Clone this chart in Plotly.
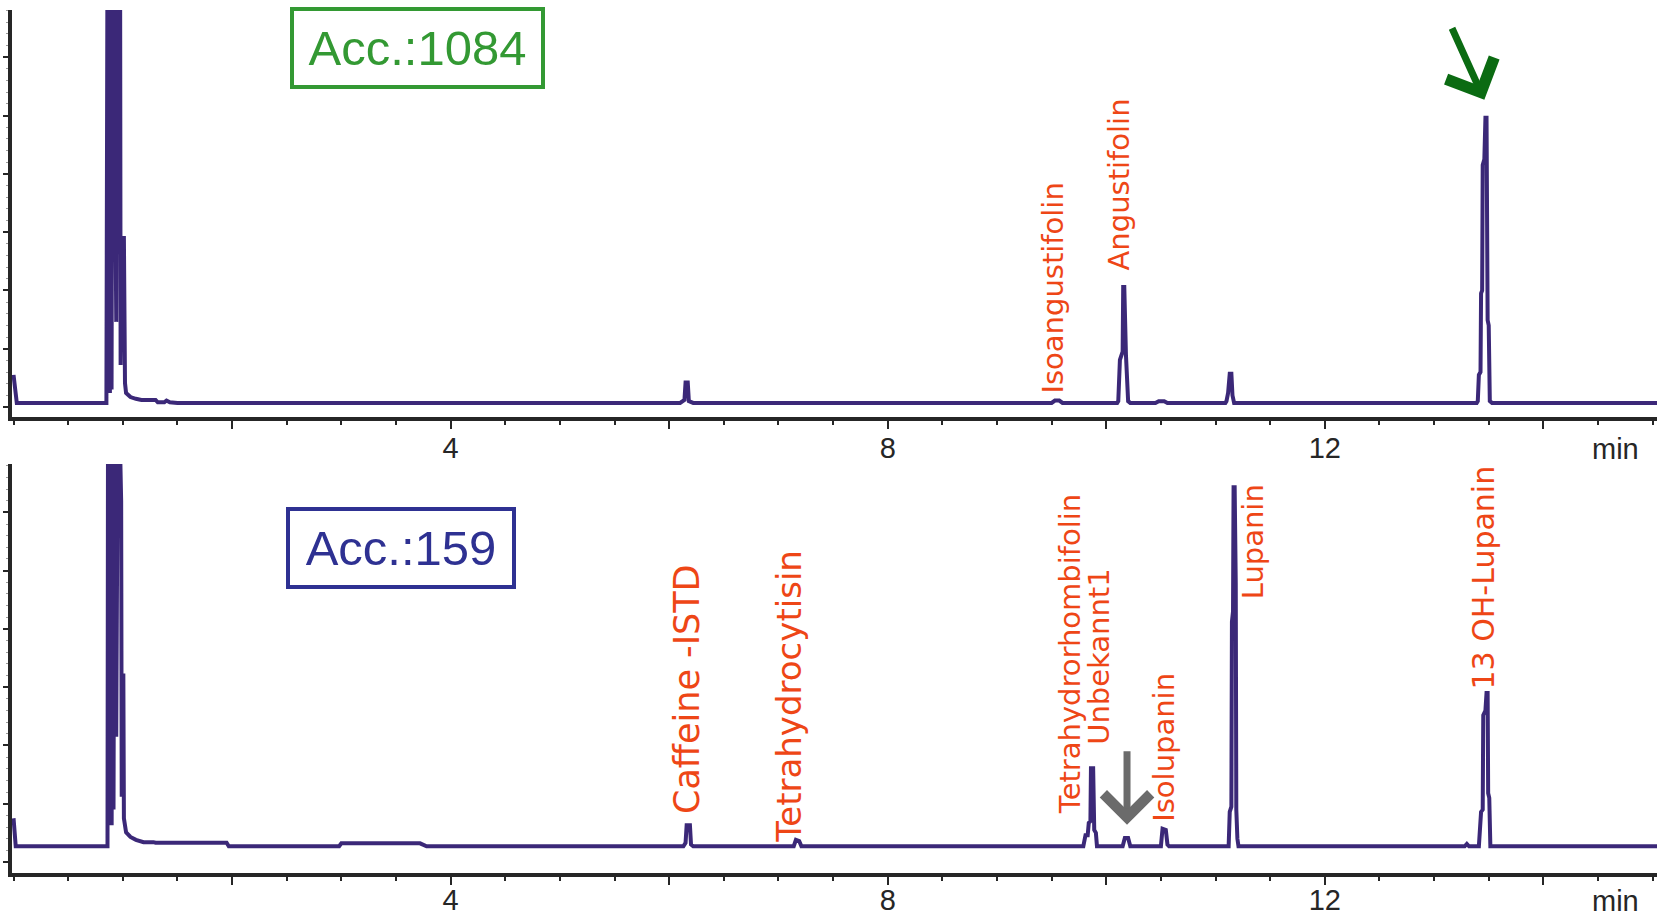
import plotly.graph_objects as go

# ---------------- data (retention time in min, detector signal in arbitrary units) -------------
top_time = [0.00, 0.02, 0.03, 0.85,
            0.86, 0.868, 0.875, 0.882, 0.89, 0.897, 0.905, 0.915, 0.94, 0.95, 0.975, 0.98,
            0.99, 1.01, 1.02, 1.03, 1.05, 1.07, 1.12, 1.17, 1.30, 1.32, 1.38, 1.40, 1.43, 1.50,
            6.10, 6.14, 6.15, 6.17, 6.18, 6.22,
            9.50, 9.53, 9.57, 9.60,
            10.10, 10.11, 10.125, 10.15, 10.155, 10.165, 10.18, 10.19, 10.20, 10.22,
            10.45, 10.48, 10.53, 10.56,
            11.09, 11.10, 11.115, 11.13, 11.145, 11.155, 11.17,
            13.39, 13.40, 13.41, 13.425, 13.43, 13.44, 13.445, 13.46, 13.47, 13.48,
            13.49, 13.50, 13.51, 13.53, 15.04]
top_signal = [0.55, 0.30, 0.07, 0.07,
              8.0, 0.30, 8.0, 0.24, 8.0, 0.30, 8.0, 8.0, 1.46, 8.0, 8.0, 0.72,
              2.90, 2.90, 0.41, 0.24, 0.20, 0.17, 0.14, 0.12, 0.12, 0.08, 0.08, 0.11, 0.08, 0.07,
              0.07, 0.12, 0.42, 0.42, 0.10, 0.07,
              0.07, 0.11, 0.11, 0.07,
              0.07, 0.10, 0.81, 0.95, 2.06, 2.06, 0.90, 0.46, 0.10, 0.07,
              0.07, 0.10, 0.10, 0.07,
              0.07, 0.10, 0.24, 0.57, 0.57, 0.20, 0.07,
              0.07, 0.10, 0.55, 0.60, 1.95, 2.00, 4.15, 4.25, 4.96, 4.96,
              1.49, 1.40, 0.10, 0.07, 0.07]

bottom_time = [0.00, 0.01, 0.02, 0.86,
               0.865, 0.872, 0.878, 0.885, 0.892, 0.898, 0.905, 0.915, 0.925, 0.94, 0.955,
               0.965, 0.975, 0.985, 0.99, 0.995, 1.005, 1.01, 1.03, 1.07, 1.12, 1.19, 1.28,
               1.30, 1.95, 1.97, 2.98, 3.00, 3.72, 3.75, 3.78,
               6.13, 6.15, 6.16, 6.19, 6.20, 6.22,
               7.14, 7.16, 7.19, 7.21,
               9.79, 9.81, 9.83, 9.84, 9.855, 9.86, 9.88, 9.89, 9.905, 9.915,
               10.15, 10.17, 10.20, 10.22,
               10.50, 10.515, 10.545, 10.56, 10.575,
               11.12, 11.13, 11.145, 11.15, 11.16, 11.165, 11.175, 11.185, 11.19, 11.20, 11.21,
               13.28, 13.30, 13.32,
               13.41, 13.43, 13.445, 13.45, 13.47, 13.48, 13.49, 13.495, 13.505, 13.515,
               15.04]
bottom_signal = [0.75, 0.55, 0.27, 0.27,
                 8.0, 0.63, 8.0, 0.70, 8.0, 0.63, 8.0, 0.90, 8.0, 2.15, 8.0,
                 8.0, 6.60, 6.20, 1.12, 3.20, 3.20, 0.75, 0.51, 0.43, 0.38, 0.34, 0.34,
                 0.33, 0.33, 0.27, 0.27, 0.32, 0.32, 0.29, 0.27,
                 0.27, 0.33, 0.63, 0.63, 0.30, 0.27,
                 0.27, 0.38, 0.36, 0.27,
                 0.27, 0.46, 0.46, 0.67, 0.70, 1.61, 1.61, 0.55, 0.50, 0.27,
                 0.27, 0.41, 0.41, 0.27,
                 0.27, 0.57, 0.55, 0.30, 0.27,
                 0.27, 0.86, 0.95, 4.12, 4.30, 6.43, 6.43, 4.79, 0.90, 0.40, 0.27,
                 0.27, 0.31, 0.27,
                 0.27, 0.86, 0.90, 2.52, 2.60, 2.90, 2.90, 1.18, 1.10, 0.27,
                 0.27]

top_peak_names = ["Isoangustifolin", "Angustifolin"]
top_peak_rt = [9.514, 10.118]
top_peak_label_base = [0.19, 2.31]

bottom_peak_names = ["Caffeine -ISTD", "Tetrahydrocytisin", "Tetrahydrorhombifolin",
                     "Unbekannt1", "Isolupanin", "Lupanin", "13 OH-Lupanin"]
bottom_peak_rt = [6.164, 7.089, 9.670, 9.935, 10.521, 11.345, 13.45]
bottom_peak_label_base = [0.79, 0.29, 0.79, 1.97, 0.65, 4.47, 2.93]

tick_values = [2, 4, 6, 8, 10, 12, 14]
tick_labels = ["", "4", "", "8", "", "12", ""]
accessions = ["Acc.:1084", "Acc.:159"]

# ---------------- styles -------------
W, H = 1657, 918
ML, MR, MT, MB = 12, 0, 10, 45
TRACE = "#3B2878"
AXC = "#262626"
LABC = "#EE4616"
TICKFONT = dict(family="Liberation Sans, Arial", size=29, color=AXC)

fig = go.Figure()
fig.add_trace(go.Scatter(x=top_time, y=top_signal, mode="lines",
                         line=dict(color=TRACE, width=4), xaxis="x", yaxis="y",
                         showlegend=False, hoverinfo="skip"))
fig.add_trace(go.Scatter(x=bottom_time, y=bottom_signal, mode="lines",
                         line=dict(color=TRACE, width=4), xaxis="x2", yaxis="y2",
                         showlegend=False, hoverinfo="skip"))

def xax(anchor, standoff):
    return dict(range=[-0.014, 15.04], anchor=anchor, domain=[0, 1], automargin=False,
                showline=True, linewidth=4, linecolor=AXC,
                ticks="outside", ticklen=8, tickwidth=2, tickcolor=AXC,
                tickmode="array", tickvals=tick_values, ticktext=tick_labels,
                tickfont=TICKFONT, ticklabelstandoff=standoff, showgrid=False, zeroline=False,
                minor=dict(tick0=0, dtick=0.5, ticks="outside", ticklen=4,
                           tickwidth=2, tickcolor=AXC, showgrid=False))

def yax(anchor, rng, dom):
    return dict(range=rng, anchor=anchor, domain=dom, automargin=False,
                showline=True, linewidth=4, linecolor=AXC,
                ticks="outside", ticklen=5, tickwidth=2, tickcolor=AXC,
                tick0=0, dtick=1, showticklabels=False, showgrid=False, zeroline=False,
                minor=dict(tick0=0, dtick=0.2, ticks="outside", ticklen=2,
                           tickwidth=1, tickcolor="#9a9a9a", showgrid=False))

plot_h = H - MT - MB
top_dom = [(H - MB - 417) / plot_h, 1.0]
bot_dom = [0.0, (H - MB - 464) / plot_h]

annotations = []
for name, rt, base in zip(top_peak_names, top_peak_rt, top_peak_label_base):
    annotations.append(dict(x=rt, y=base, xref="x", yref="y", text=name, showarrow=False,
                            textangle=-90, xanchor="center", yanchor="bottom",
                            font=dict(family="DejaVu Sans", size=29, color=LABC)))
bsizes = [35, 34, 29, 29, 29, 29, 30]
for name, rt, base, sz in zip(bottom_peak_names, bottom_peak_rt, bottom_peak_label_base, bsizes):
    annotations.append(dict(x=rt, y=base, xref="x2", yref="y2", text=name, showarrow=False,
                            textangle=-90, xanchor="center", yanchor="bottom",
                            font=dict(family="DejaVu Sans", size=sz, color=LABC)))

# "min" unit labels
for xr, py in (("x", 449), ("x2", 901)):
    annotations.append(dict(x=14.66, y=(H - MB - py) / plot_h, xref=xr, yref="paper",
                            text="min", showarrow=False, xanchor="center", yanchor="middle",
                            font=TICKFONT))

# accession boxes
plot_w = W - ML - MR
annotations.append(dict(x=(417.5 - ML) / plot_w, y=(H - MB - 47.5) / plot_h,
                        xref="paper", yref="paper", text=accessions[0], showarrow=False,
                        xanchor="center", yanchor="middle", width=247, height=74,
                        bordercolor="#339933", borderwidth=4, borderpad=0,
                        font=dict(family="Liberation Sans, Arial", size=49, color="#339933")))
annotations.append(dict(x=(401 - ML) / plot_w, y=(H - MB - 547.5) / plot_h,
                        xref="paper", yref="paper", text=accessions[1], showarrow=False,
                        xanchor="center", yanchor="middle", width=222, height=74,
                        bordercolor="#2E3192", borderwidth=4, borderpad=0,
                        font=dict(family="Liberation Sans, Arial", size=49, color="#2E3192")))

# arrows
annotations.append(dict(x=13.46, y=5.27, xref="x", yref="y", text="", showarrow=True,
                        ax=-33, ay=-73, arrowhead=4, arrowsize=1.45, arrowwidth=7,
                        arrowcolor="#0B6B12", standoff=0))
annotations.append(dict(x=10.19, y=0.64, xref="x2", yref="y2", text="", showarrow=True,
                        ax=0, ay=-75, arrowhead=4, arrowsize=1.3, arrowwidth=7,
                        arrowcolor="#6B6B6B", standoff=0))

fig.update_layout(
    width=W, height=H, margin=dict(l=ML, r=MR, t=MT, b=MB, autoexpand=False),
    paper_bgcolor="white", plot_bgcolor="white", showlegend=False,
    xaxis=xax("y", -6), yaxis=yax("x", [-0.172, 6.81], top_dom),
    xaxis2=xax("y2", -10), yaxis2=yax("x2", [-0.189, 6.83], bot_dom),
    annotations=annotations,
)

fig.write_html("out.html", config={"displayModeBar": False},
               post_script="document.body.style.margin='0px';document.body.style.overflow='hidden';")
